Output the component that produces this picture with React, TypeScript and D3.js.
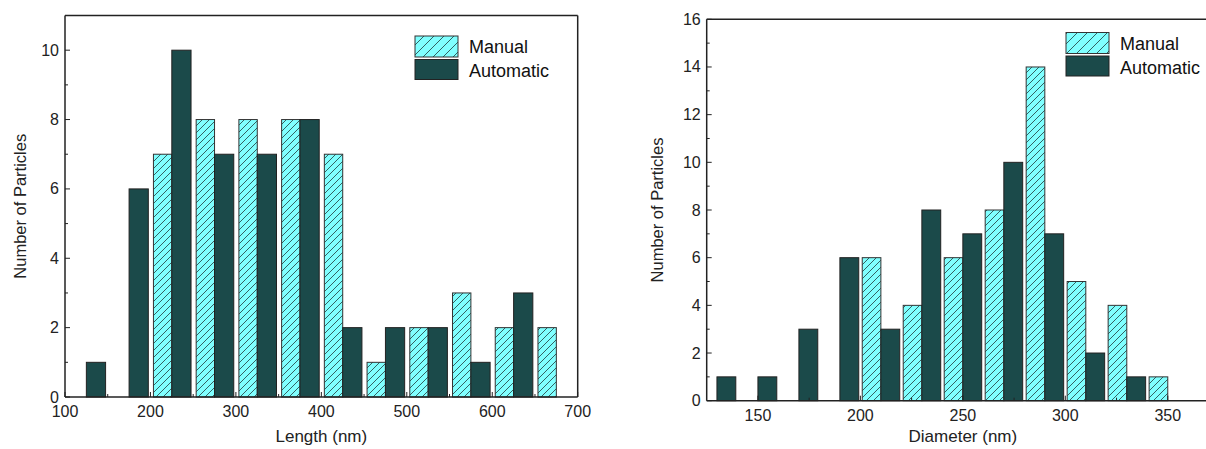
import React from "react";
import * as d3 from "d3";

// ---- data ----
const lengthBins = [100, 150, 200, 250, 300, 350, 400, 450, 500, 550, 600, 650];
const lengthManual = [0, 0, 7, 8, 8, 8, 7, 1, 2, 3, 2, 2];
const lengthAuto = [1, 6, 10, 7, 7, 8, 2, 2, 2, 1, 3, 0];
const lengthXTicks = [100, 200, 300, 400, 500, 600, 700];
const lengthYTicks = [0, 2, 4, 6, 8, 10];

const diameterBins = [120, 140, 160, 180, 200, 220, 240, 260, 280, 300, 320, 340];
const diameterManual = [0, 0, 0, 0, 6, 4, 6, 8, 14, 5, 4, 1];
const diameterAuto = [1, 1, 3, 6, 3, 8, 7, 10, 7, 2, 1, 0];
const diameterXTicks = [150, 200, 250, 300, 350];
const diameterYTicks = [0, 2, 4, 6, 8, 10, 12, 14, 16];

const seriesNames = ["Manual", "Automatic"];

const CYAN = "#80FFFF";
const DARK = "#1B4A4A";
const FONT = "Liberation Sans, Arial, sans-serif";

type PanelProps = {
  x0: number; x1: number; yTop: number; yBot: number;
  xDomain: [number, number]; yDomain: [number, number];
  bins: number[]; binW: number; manual: number[]; auto: number[];
  xTicks: number[]; xMinor: number[]; yTicks: number[]; yMinor: number[];
  xTitle: string; yTitleX: number; frameRight: boolean;
  legendX: number; legendY: number; barFrac: [number, number];
};

function Panel(p: PanelProps) {
  const xs = d3.scaleLinear().domain(p.xDomain).range([p.x0, p.x1]);
  const ys = d3.scaleLinear().domain(p.yDomain).range([p.yBot, p.yTop]);
  const bars: React.ReactNode[] = [];
  p.bins.forEach((b, i) => {
    const mv = p.manual[i];
    const av = p.auto[i];
    const mid = b + p.binW / 2;
    if (mv > 0) {
      const xa = xs(b + p.binW * p.barFrac[0]);
      const xb = xs(mid);
      bars.push(
        <g key={"m" + i}>
          <rect x={xa} y={ys(mv)} width={xb - xa} height={ys(0) - ys(mv)} fill={CYAN} />
          <rect x={xa} y={ys(mv)} width={xb - xa} height={ys(0) - ys(mv)} fill="url(#hatch)" stroke="#333" strokeWidth={1} />
        </g>
      );
    }
    if (av > 0) {
      const xa = xs(mid);
      const xb = xs(b + p.binW * p.barFrac[1]);
      bars.push(
        <rect key={"a" + i} x={xa} y={ys(av)} width={xb - xa} height={ys(0) - ys(av)} fill={DARK} stroke="#222" strokeWidth={1} />
      );
    }
  });
  const lx = p.legendX, ly = p.legendY;
  return (
    <g>
      {bars}
      {/* axes / frame */}
      <line x1={p.x0} x2={p.x1} y1={p.yBot} y2={p.yBot} stroke="#222" strokeWidth={1.5} />
      <line x1={p.x0} x2={p.x0} y1={p.yTop} y2={p.yBot} stroke="#222" strokeWidth={1.5} />
      <line x1={p.x0} x2={p.x1} y1={p.yTop} y2={p.yTop} stroke="#222" strokeWidth={1.5} />
      {p.frameRight && <line x1={p.x1} x2={p.x1} y1={p.yTop} y2={p.yBot} stroke="#222" strokeWidth={1.5} />}
      {p.xTicks.map((t) => (
        <g key={"xt" + t}>
          <line x1={xs(t)} x2={xs(t)} y1={p.yBot} y2={p.yBot - 5} stroke="#222" strokeWidth={1} />
          <text x={xs(t)} y={p.yBot + 20} textAnchor="middle" fontSize={16} fontFamily={FONT} fill="#222">{t}</text>
        </g>
      ))}
      {p.xMinor.map((t) => (
        <line key={"xm" + t} x1={xs(t)} x2={xs(t)} y1={p.yBot} y2={p.yBot - 3} stroke="#222" strokeWidth={1} />
      ))}
      {p.yTicks.map((t) => (
        <g key={"yt" + t}>
          <line x1={p.x0} x2={p.x0 + 5} y1={ys(t)} y2={ys(t)} stroke="#222" strokeWidth={1} />
          <text x={p.x0 - 6} y={ys(t) + 5.5} textAnchor="end" fontSize={16} fontFamily={FONT} fill="#222">{t}</text>
        </g>
      ))}
      {p.yMinor.map((t) => (
        <line key={"ym" + t} x1={p.x0} x2={p.x0 + 3} y1={ys(t)} y2={ys(t)} stroke="#222" strokeWidth={1} />
      ))}
      <text x={(p.x0 + p.x1) / 2} y={442} textAnchor="middle" fontSize={17} fontFamily={FONT} fill="#222">{p.xTitle}</text>
      <text transform={`translate(${p.yTitleX},${(p.yTop + p.yBot) / 2}) rotate(-90)`} textAnchor="middle" fontSize={16.5} fontFamily={FONT} fill="#222">Number of Particles</text>
      {/* legend */}
      <rect x={lx} y={ly} width={43} height={21} fill={CYAN} />
      <rect x={lx} y={ly} width={43} height={21} fill="url(#hatchL)" stroke="#333" strokeWidth={1} />
      <rect x={lx} y={ly + 23.5} width={43} height={20} fill={DARK} stroke="#222" strokeWidth={1} />
      <text x={lx + 54} y={ly + 17} fontSize={18} fontFamily={FONT} fill="#111">{seriesNames[0]}</text>
      <text x={lx + 54} y={ly + 41} fontSize={18} fontFamily={FONT} fill="#111">{seriesNames[1]}</text>
    </g>
  );
}

export default function App() {
  return (
    <svg width={1206} height={449} style={{ position: "absolute", left: 0, top: 0, background: "#fff" }}>
      <defs>
        <pattern id="hatch" patternUnits="userSpaceOnUse" width={7} height={7}>
          <path d="M-1,8 L8,-1 M-1,1 L1,-1 M6,8 L8,6" stroke="#2A5050" strokeWidth={0.9} />
        </pattern>
        <pattern id="hatchL" patternUnits="userSpaceOnUse" width={10} height={10}>
          <path d="M-1,11 L11,-1 M-1,1 L1,-1 M9,11 L11,9" stroke="#2A5050" strokeWidth={0.9} />
        </pattern>
      </defs>
      <Panel
        x0={65} x1={577.7} yTop={15.5} yBot={397}
        xDomain={[100, 700]} yDomain={[0, 11]}
        bins={lengthBins} binW={50} manual={lengthManual} auto={lengthAuto}
        xTicks={lengthXTicks} xMinor={[150, 250, 350, 450, 550, 650]}
        yTicks={lengthYTicks} yMinor={[1, 3, 5, 7, 9]}
        xTitle="Length (nm)" yTitleX={26} frameRight={true}
        legendX={415} legendY={36} barFrac={[0.07, 0.95]}
      />
      <Panel
        x0={706.7} x1={1219} yTop={19.3} yBot={400.7}
        xDomain={[125, 375]} yDomain={[0, 16]}
        bins={diameterBins} binW={20} manual={diameterManual} auto={diameterAuto}
        xTicks={diameterXTicks} xMinor={[175, 225, 275, 325]}
        yTicks={diameterYTicks} yMinor={[1, 3, 5, 7, 9, 11, 13, 15]}
        xTitle="Diameter (nm)" yTitleX={663} frameRight={false}
        legendX={1066} legendY={32.5} barFrac={[0.045, 0.96]}
      />
    </svg>
  );
}
